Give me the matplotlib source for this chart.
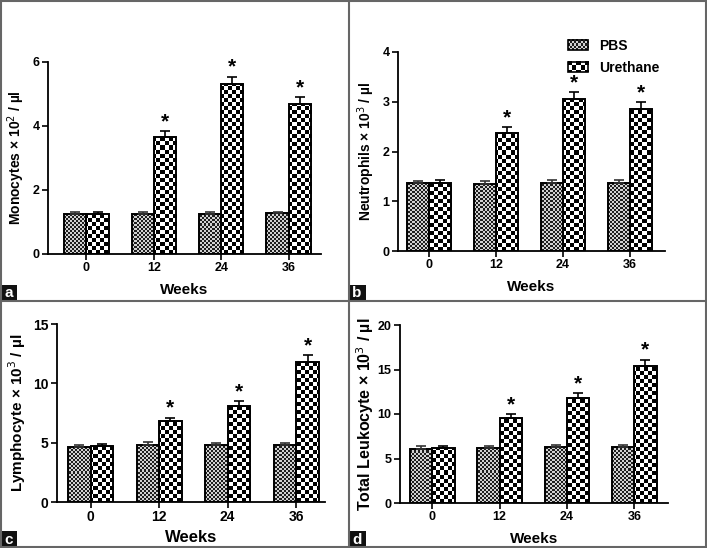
import matplotlib
matplotlib.use("Agg")
import numpy as np
import matplotlib.pyplot as plt
from matplotlib import font_manager
from matplotlib.patches import Rectangle, Patch
from matplotlib.lines import Line2D
from matplotlib.legend_handler import HandlerBase
from matplotlib.image import BboxImage
from matplotlib.transforms import Bbox, TransformedBbox

available = {f.name for f in font_manager.fontManager.ttflist}
NARROW = "Liberation Sans Narrow" if "Liberation Sans Narrow" in available else "Liberation Sans"
REG = "Liberation Sans"

# ---------------- data ----------------
weeks = ["0", "12", "24", "36"]
series_names = ["PBS", "Urethane"]

mono_pbs = [1.25, 1.25, 1.26, 1.27]
mono_pbs_err = [0.05, 0.05, 0.05, 0.05]
mono_ure = [1.25, 3.67, 5.30, 4.68]
mono_ure_err = [0.05, 0.17, 0.24, 0.22]

neut_pbs = [1.36, 1.35, 1.37, 1.36]
neut_pbs_err = [0.05, 0.06, 0.06, 0.06]
neut_ure = [1.36, 2.38, 3.06, 2.86]
neut_ure_err = [0.06, 0.11, 0.13, 0.13]

lymph_pbs = [4.64, 4.81, 4.78, 4.78]
lymph_pbs_err = [0.20, 0.22, 0.22, 0.20]
lymph_ure = [4.70, 6.81, 8.05, 11.79]
lymph_ure_err = [0.15, 0.28, 0.42, 0.59]

leuk_pbs = [6.12, 6.19, 6.27, 6.31]
leuk_pbs_err = [0.26, 0.25, 0.27, 0.25]
leuk_ure = [6.19, 9.55, 11.75, 15.37]
leuk_ure_err = [0.22, 0.45, 0.60, 0.75]

significant = [False, True, True, True]

W, H = 707, 548
fig = plt.figure(figsize=(W / 100, H / 100), dpi=100)
fig.patch.set_facecolor("white")


def px_pos(l, r, t, b):
    return [l / W, 1 - b / H, (r - l) / W, (b - t) / H]


def checker(h, w, cell, c1, c2):
    yy, xx = np.mgrid[0:h, 0:w]
    m = ((yy // cell + xx // cell) % 2).astype(float)
    img = np.zeros((h, w, 3))
    img[m == 0] = c1
    img[m == 1] = c2
    return img


PBS_DARK = np.array([0.12, 0.12, 0.12])
PBS_LIGHT = np.array([0.82, 0.82, 0.82])
U_DARK = np.array([0.0, 0.0, 0.0])
U_LIGHT = np.array([1.0, 1.0, 1.0])

panels = [
    dict(rect=(48, 321, 62, 254), xlim=(-0.57, 3.48), ylim=6, yticks=[0, 2, 4, 6],
         pbs=mono_pbs, pbs_err=mono_pbs_err, ure=mono_ure, ure_err=mono_ure_err,
         ylabel="Monocytes \u00d7 10$^{2}$ / \u00b5l", font=NARROW, tfs=9, lfs=10, xlfs=11,
         ylpad=4, xlpad=6,
         letter="a", letter_box=(0, 285, 17, 301), legend=False),
    dict(rect=(398, 665, 52, 251), xlim=(-0.46, 3.52), ylim=4, yticks=[0, 1, 2, 3, 4],
         pbs=neut_pbs, pbs_err=neut_pbs_err, ure=neut_ure, ure_err=neut_ure_err,
         ylabel="Neutrophils \u00d7 10$^{3}$ / \u00b5l", font=NARROW, tfs=9, lfs=10, xlfs=11,
         ylpad=4, xlpad=6,
         letter="b", letter_box=(348, 285, 366, 301), legend=True),
    dict(rect=(57, 325, 324, 502), xlim=(-0.49, 3.42), ylim=15, yticks=[0, 5, 10, 15],
         pbs=lymph_pbs, pbs_err=lymph_pbs_err, ure=lymph_ure, ure_err=lymph_ure_err,
         ylabel="Lymphocyte \u00d7 10$^{3}$ / \u00b5l", font=REG, tfs=10, lfs=11, xlfs=12,
         ylpad=4, xlpad=4,
         letter="c", letter_box=(0, 531, 17, 548), legend=False),
    dict(rect=(400, 668, 325, 503), xlim=(-0.48, 3.50), ylim=20, yticks=[0, 5, 10, 15, 20],
         pbs=leuk_pbs, pbs_err=leuk_pbs_err, ure=leuk_ure, ure_err=leuk_ure_err,
         ylabel="Total Leukocyte \u00d7 10$^{3}$ / \u00b5l", font=NARROW, tfs=9, lfs=11.5, xlfs=11,
         ylpad=1, xlpad=6,
         letter="d", letter_box=(348, 531, 366, 548), legend=False),
]

bw = 0.33
x = np.arange(len(weeks))


class HandlerChecker(HandlerBase):
    def __init__(self, tex):
        super().__init__()
        self.tex = tex

    def create_artists(self, legend, orig_handle, xdescent, ydescent, width, height,
                       fontsize, trans):
        bb = TransformedBbox(Bbox.from_bounds(-xdescent, -ydescent, width, height), trans)
        img = BboxImage(bb, interpolation="nearest")
        img.set_data(self.tex)
        rect = Rectangle((-xdescent, -ydescent), width, height, fill=False,
                         edgecolor="black", linewidth=1.2, transform=trans)
        return [img, rect]


for p in panels:
    l, r, t, b = p["rect"]
    ax = fig.add_axes(px_pos(l, r, t, b))
    ax.set_xlim(*p["xlim"])
    ax.set_ylim(0, p["ylim"])
    axw, axh = int(r - l), int(b - t)

    tex_p = checker(axh, axw, 2, PBS_DARK, PBS_LIGHT)
    tex_u = checker(axh, axw, 4, U_DARK, U_LIGHT)

    bars_p = ax.bar(x - bw / 2, p["pbs"], width=bw, facecolor="none",
                    edgecolor="black", linewidth=1.4, zorder=3, label=series_names[0])
    bars_u = ax.bar(x + bw / 2, p["ure"], width=bw, facecolor="none",
                    edgecolor="black", linewidth=1.4, zorder=3, label=series_names[1])

    for bars, tex in ((bars_p, tex_p), (bars_u, tex_u)):
        for bar in bars:
            im = ax.imshow(tex, extent=(p["xlim"][0], p["xlim"][1], 0, p["ylim"]),
                           origin="lower", aspect="auto", interpolation="nearest", zorder=2)
            im.set_clip_path(bar)

    ax.set_xlim(*p["xlim"])
    ax.set_ylim(0, p["ylim"])

    ax.errorbar(x - bw / 2, p["pbs"], yerr=[np.zeros(len(x)), p["pbs_err"]], fmt="none",
                ecolor="#333333", elinewidth=1.2, capsize=3.6, capthick=1.2, zorder=4)
    ax.errorbar(x + bw / 2, p["ure"], yerr=[np.zeros(len(x)), p["ure_err"]], fmt="none",
                ecolor="black", elinewidth=1.2, capsize=3.6, capthick=1.2, zorder=4)

    for i, sig in enumerate(significant):
        if sig:
            ax.annotate("*", xy=(x[i] + bw / 2, p["ure"][i] + p["ure_err"][i]),
                        xytext=(0, 0), textcoords="offset points", ha="center", va="bottom",
                        fontsize=15, fontweight="bold", family=REG)

    for s in ("top", "right"):
        ax.spines[s].set_visible(False)
    for s in ("left", "bottom"):
        ax.spines[s].set_linewidth(1.3)
    ax.set_yticks(p["yticks"])
    ax.set_xticks(x)
    ax.set_xticklabels(weeks)
    ax.tick_params(axis="both", length=4, width=1.2, pad=2, labelsize=p["tfs"])
    for lab in ax.get_xticklabels() + ax.get_yticklabels():
        lab.set_fontweight("bold")
        lab.set_family(p["font"])
    ax.set_xlabel("Weeks", fontsize=p["xlfs"], fontweight="bold", family=p["font"],
                  labelpad=p["xlpad"])
    ax.set_ylabel(p["ylabel"], fontsize=p["lfs"], fontweight="bold", family=p["font"],
                  labelpad=p["ylpad"])

    if p["legend"]:
        hp = Patch(label=series_names[0])
        hu = Patch(label=series_names[1])
        ax.legend([hp, hu], series_names,
                  handler_map={hp: HandlerChecker(checker(10, 20, 2, PBS_DARK, PBS_LIGHT)),
                               hu: HandlerChecker(checker(10, 20, 4, U_DARK, U_LIGHT))},
                  loc="upper left", bbox_to_anchor=(561 / W, 1 - 32 / H),
                  bbox_transform=fig.transFigure, frameon=False, borderpad=0,
                  prop=dict(family=NARROW, weight="bold", size=10),
                  handlelength=1.45, handleheight=0.75, handletextpad=0.8, labelspacing=0.55)

    # panel letter
    lx0, ly0, lx1, ly1 = p["letter_box"]
    fig.add_artist(Rectangle((lx0 / W, 1 - ly1 / H), (lx1 - lx0) / W, (ly1 - ly0) / H,
                             transform=fig.transFigure, facecolor="#111111", edgecolor="none"))
    fig.text((lx0 + lx1) / 2 / W, 1 - (ly0 + ly1) / 2 / H, p["letter"], color="white",
             ha="center", va="center", fontsize=11, fontweight="bold", family=REG)

# panel borders
bc = "#666666"
for (x0, y0, x1, y1) in [(1, 0, 1, 548), (706, 0, 706, 548), (0, 1, 707, 1), (0, 547, 707, 547),
                         (349, 0, 349, 548), (0, 301, 707, 301)]:
    fig.add_artist(Line2D([x0 / W, x1 / W], [1 - y0 / H, 1 - y1 / H], transform=fig.transFigure,
                          color=bc, linewidth=1.5))

fig.savefig("out.png", dpi=100)
